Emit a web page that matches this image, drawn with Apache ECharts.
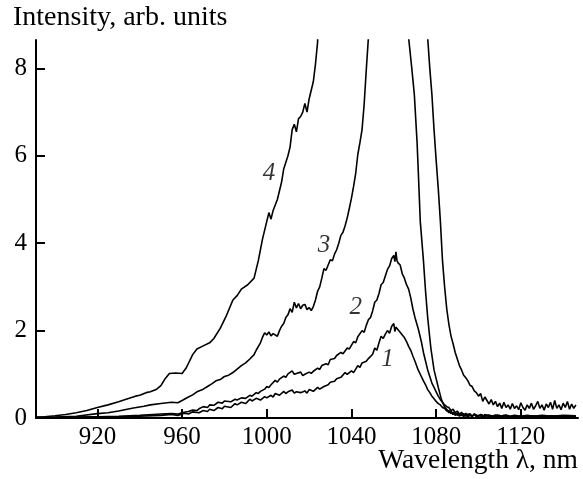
<!DOCTYPE html>
<html>
<head>
<meta charset="utf-8">
<script src="https://cdn.jsdelivr.net/npm/echarts@6/dist/echarts.min.js"></script>
<style>
  html, body { margin: 0; padding: 0; background: #fff; }
  #chart { width: 583px; height: 479px; }
</style>
</head>
<body>
<div id="chart"></div>
<script>
// x ticks and labels
var xTicks = [920, 960, 1000, 1040, 1080, 1120];

// curve 1 [wavelength nm, intensity]
var curve1 = [[891,0.01],[900,0.01],[910,0.02],[920,0.02],[930,0.03],[940,0.04],[950,0.06],[955,0.08],[958,0.06],[961,0.11],
  [963,0.09],[965,0.14],[968,0.12],[970,0.17],[972,0.15],[973,0.2],[975,0.17],[977,0.24],[979,0.21],[980,0.27],[983,0.24],
  [985,0.33],[986,0.3],[988,0.36],[990,0.33],[992,0.43],[993,0.39],[995,0.45],[997,0.41],[999,0.49],[1000,0.46],[1002,0.52],
  [1003,0.48],[1004,0.56],[1006,0.52],[1008,0.61],[1009,0.56],[1010,0.6],[1012,0.64],[1013,0.57],[1014,0.6],[1016,0.58],
  [1018,0.62],[1019,0.57],[1020,0.65],[1022,0.61],[1024,0.7],[1025,0.66],[1027,0.72],[1029,0.76],[1030,0.82],[1032,0.84],
  [1033,0.9],[1035,0.93],[1037,1.04],[1038,1.0],[1040,1.08],[1041,1.04],[1043,1.2],[1044,1.16],[1045,1.26],[1047,1.3],
  [1048,1.36],[1050,1.46],[1051,1.6],[1052,1.55],[1053,1.72],[1054,1.87],[1055,1.82],[1056,1.92],[1057,2.0],[1058,1.94],
  [1059,2.1],[1060,2.16],[1060.5,1.98],[1061,2.08],[1062,2.02],[1063,1.96],[1064,1.9],[1065,1.84],[1066,1.75],[1067,1.64],
  [1068,1.55],[1069,1.42],[1070,1.3],[1071.5,1.1],[1073,0.95],[1074,0.85],[1075,0.76],[1076,0.65],[1077,0.58],[1078,0.5],
  [1079,0.44],[1080,0.38],[1081,0.33],[1082,0.3],[1083,0.24],[1084,0.22],[1085,0.16],[1086,0.17],[1087,0.1],[1088,0.13],
  [1089,0.06],[1090,0.11],[1091,0.04],[1092,0.09],[1093,0.03],[1094,0.08],[1095,0.02],[1096,0.07],[1097,0.03],[1098,0.09],
  [1099,0.02],[1100,0.06],[1102,0.03],[1103,0.08],[1105,0.02],[1106,0.05],[1108,0.02],[1110,0.06],[1112,0.02],[1115,0.04],
  [1118,0.02],[1120,0.04],[1125,0.03],[1130,0.04],[1135,0.03],[1140,0.04],[1146,0.03]];

// curve 2
var curve2 = [[891,0.01],[900,0.01],[910,0.02],[920,0.03],[930,0.04],[940,0.06],[950,0.09],[955,0.1],[958,0.09],[961,0.13],
  [963,0.15],[965,0.18],[967,0.17],[968,0.21],[970,0.26],[972,0.24],[973,0.3],[975,0.29],[977,0.36],[979,0.34],[980,0.39],
  [983,0.37],[985,0.43],[986,0.41],[988,0.46],[990,0.45],[992,0.52],[993,0.5],[995,0.58],[996,0.56],[997,0.61],[999,0.66],
  [1000,0.72],[1001,0.7],[1002,0.76],[1004,0.86],[1005,0.82],[1006,0.89],[1008,0.96],[1009,0.93],[1010,1.01],[1012,1.08],
  [1013,1.0],[1014,1.02],[1016,1.05],[1017,0.97],[1018,1.0],[1020,1.05],[1021,1.02],[1022,1.07],[1024,1.14],[1025,1.11],
  [1026,1.2],[1028,1.24],[1029,1.22],[1030,1.34],[1032,1.36],[1033,1.43],[1035,1.5],[1036,1.47],[1038,1.6],[1039,1.58],
  [1041,1.75],[1042,1.72],[1043,1.86],[1045,2.0],[1046,1.96],[1047,2.12],[1048,2.25],[1049,2.3],[1050,2.45],[1051,2.65],
  [1052,2.7],[1053,2.85],[1054,3.05],[1055,3.1],[1056,3.25],[1057,3.4],[1058,3.48],[1059,3.65],[1060,3.72],[1060.5,3.58],
  [1061,3.8],[1061.5,3.6],[1062,3.55],[1063,3.5],[1064,3.3],[1065,3.2],[1066,3.05],[1067,2.95],[1068,2.75],[1069,2.5],
  [1070,2.3],[1071.5,2.05],[1073,1.75],[1074,1.5],[1075,1.3],[1076,1.1],[1077,0.95],[1078,0.8],[1079,0.7],[1080,0.6],
  [1081,0.5],[1082,0.42],[1083,0.36],[1084,0.3],[1085,0.26],[1086,0.24],[1087,0.17],[1088,0.2],[1089,0.12],[1090,0.16],
  [1091,0.08],[1092,0.13],[1093,0.06],[1094,0.11],[1095,0.05],[1096,0.1],[1097,0.04],[1098,0.09],[1100,0.04],[1101,0.08],
  [1103,0.03],[1104,0.07],[1106,0.03],[1108,0.07],[1110,0.03],[1112,0.06],[1115,0.03],[1118,0.05],[1120,0.03],[1125,0.05],
  [1130,0.04],[1135,0.05],[1140,0.03],[1146,0.04]];

// curve 3 (saturates between ~1048 and ~1067)
var curve3 = [[891,0.01],[900,0.02],[910,0.04],[920,0.1],[925,0.12],[930,0.16],[937,0.23],[942,0.27],[945,0.3],[950,0.33],
  [955,0.36],[958,0.35],[960,0.4],[963,0.48],[965,0.53],[967,0.6],[970,0.66],[972,0.72],[974,0.78],[976,0.85],
  [978,0.88],[980,0.95],[982,0.98],[984,1.04],[986,1.12],[988,1.2],[990,1.26],[992,1.35],[994,1.45],[995,1.55],
  [997,1.72],[998,1.85],[999,1.95],[1000,1.9],[1001,1.97],[1002,1.88],[1003,1.93],[1005,1.87],[1006,2.0],[1007,2.1],
  [1008,2.16],[1009,2.3],[1010,2.36],[1011,2.5],[1012,2.42],[1013,2.65],[1014,2.52],[1015,2.62],[1016,2.5],[1017,2.58],
  [1018,2.6],[1019,2.48],[1020,2.53],[1021,2.46],[1022,2.55],[1023,2.7],[1024,2.9],[1025,3.0],[1026,3.2],[1027,3.42],
  [1028,3.38],[1029,3.5],[1030,3.62],[1031,3.6],[1032,3.75],[1033,3.85],[1034,4.0],[1035,4.18],[1036,4.25],[1037,4.4],
  [1038,4.58],[1039,4.8],[1040,5.03],[1041,5.3],[1042,5.6],[1043,6.03],[1044,6.3],[1045,6.6],[1046,7.18],[1047,7.97],
  [1048,8.7],[1050,12],[1063,12],[1066,9.5],[1067,8.7],[1068.5,8.0],[1069.7,7.4],[1071,6.3],[1071.6,5.6],[1072.5,4.5],
  [1074,3.6],[1075,2.9],[1076,2.3],[1077.5,1.6],[1079,1.1],[1080,0.9],[1081,0.7],[1082.5,0.42],[1084,0.25],[1085,0.2],
  [1086,0.12],[1087,0.16],[1088,0.08],[1089,0.13],[1090,0.06],[1091,0.11],[1092,0.05],[1093,0.1],[1094,0.04],[1095,0.09],
  [1097,0.04],[1098,0.08],[1100,0.04],[1101,0.08],[1103,0.04],[1105,0.07],[1107,0.03],[1109,0.07],[1111,0.04],[1113,0.07],
  [1115,0.04],[1117,0.06],[1120,0.04],[1123,0.06],[1126,0.04],[1130,0.06],[1135,0.04],[1140,0.06],[1146,0.05]];

// curve 4 (saturates between ~1024 and ~1076)
var curve4 = [[891,0.02],[895,0.03],[900,0.05],[905,0.08],[910,0.12],[915,0.17],[920,0.24],[925,0.3],[930,0.37],[935,0.45],
  [938,0.5],[940,0.52],[943,0.58],[945,0.6],[948,0.66],[950,0.74],[952,0.9],[954,1.02],[957,1.03],[960,1.02],
  [962,1.15],[965,1.45],[967,1.58],[970,1.65],[973,1.72],[975,1.82],[978,2.05],[981,2.35],[984,2.7],[986,2.8],
  [988,2.95],[991,3.05],[994,3.2],[996,3.6],[998,4.1],[1000,4.5],[1001,4.7],[1002,4.55],[1003,4.75],[1005,5.0],
  [1007,5.4],[1008,5.7],[1010,6.0],[1011,6.2],[1012,6.6],[1013,6.72],[1014,6.55],[1015,6.85],[1016,6.9],[1017,7.0],
  [1018,7.2],[1019,7.0],[1020,7.3],[1021,7.5],[1022,7.7],[1023,8.1],[1024,8.6],[1026,12],[1072,12],[1075,9.5],
  [1076,8.7],[1077,8.0],[1078,7.4],[1079,6.6],[1080,5.9],[1081,5.25],[1082,4.5],[1083,3.6],[1084,3.0],[1085,2.5],
  [1086,2.15],[1087,1.88],[1088,1.7],[1089,1.5],[1090,1.35],[1091,1.2],[1092,1.1],[1093,0.98],[1094,0.92],[1095,0.85],
  [1096,0.75],[1097,0.72],[1098,0.62],[1099,0.58],[1100,0.5],[1101,0.56],[1102,0.38],[1103,0.48],[1104,0.4],[1105,0.32],
  [1106,0.42],[1107,0.3],[1108,0.38],[1109,0.26],[1110,0.34],[1111,0.22],[1112,0.36],[1113,0.24],[1114,0.3],[1115,0.2],
  [1116,0.33],[1117,0.22],[1118,0.28],[1119,0.19],[1120,0.35],[1121,0.24],[1122,0.18],[1123,0.3],[1124,0.22],[1125,0.34],
  [1126,0.2],[1127,0.28],[1128,0.38],[1129,0.22],[1130,0.3],[1131,0.18],[1132,0.32],[1133,0.24],[1134,0.36],[1135,0.2],
  [1136,0.4],[1137,0.22],[1138,0.3],[1139,0.19],[1140,0.34],[1141,0.24],[1142,0.38],[1143,0.2],[1144,0.32],[1145,0.22],[1146,0.3]];

// curve labels [x, y, text]
var curveLabels = [[1001, 5.6, '4'], [1027, 3.95, '3'], [1042, 2.54, '2'], [1057, 1.34, '1']];

var serif = 'Liberation Serif';

function lineSeries(name, data) {
  return {
    name: name,
    type: 'line',
    data: data,
    showSymbol: false,
    symbol: 'none',
    clip: true,
    lineStyle: { color: '#000', width: 1.6 },
    animation: false
  };
}

var chart = echarts.init(document.getElementById('chart'));
chart.setOption({
  animation: false,
  title: [{
    text: 'Intensity, arb. units',
    left: 13, top: 4, padding: 0,
    textStyle: { fontFamily: serif, fontSize: 28, fontWeight: 'normal', color: '#000' }
  }, {
    text: 'Wavelength \u03bb, nm',
    right: 5, bottom: 4, padding: 0,
    textStyle: { fontFamily: serif, fontSize: 27.5, fontWeight: 'normal', color: '#000' }
  }],
  grid: { left: 36, right: 5, top: 40, bottom: 61 },
  xAxis: {
    type: 'value',
    min: 891, max: 1147,
    splitLine: { show: false },
    axisLine: { lineStyle: { color: '#000', width: 2 } },
    axisTick: { inside: true, length: 9, customValues: xTicks, lineStyle: { color: '#000', width: 2 } },
    axisLabel: {
      customValues: xTicks,
      formatter: function (v) { return String(v); },
      fontFamily: serif, fontSize: 25, color: '#000', margin: 7
    }
  },
  yAxis: {
    type: 'value',
    min: 0, max: 8.65, interval: 2,
    splitLine: { show: false },
    axisLine: { show: true, lineStyle: { color: '#000', width: 2 } },
    axisTick: { show: true, inside: true, length: 9, lineStyle: { color: '#000', width: 2 } },
    axisLabel: {
      fontFamily: serif, fontSize: 25, color: '#000', margin: 9,
      showMaxLabel: false
    }
  },
  series: [
    lineSeries('1', curve1),
    lineSeries('2', curve2),
    lineSeries('3', curve3),
    lineSeries('4', curve4),
    {
      type: 'scatter',
      data: curveLabels,
      symbolSize: 0,
      silent: true,
      label: {
        show: true,
        position: 'inside',
        formatter: function (p) { return p.value[2]; },
        fontFamily: serif, fontStyle: 'italic', fontSize: 25, color: '#000',
        textBorderWidth: 0
      }
    }
  ]
});
</script>
</body>
</html>
